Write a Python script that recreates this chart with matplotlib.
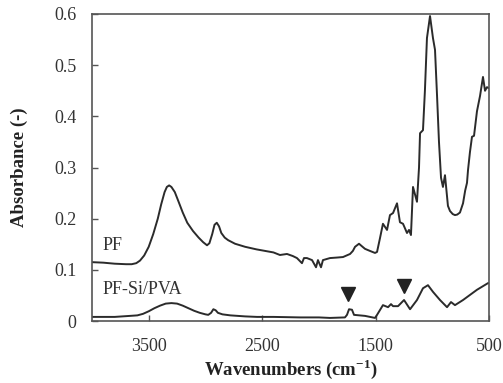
import matplotlib
matplotlib.use("Agg")
import matplotlib.pyplot as plt
from matplotlib.ticker import FuncFormatter

# PF spectrum (wavenumber cm-1, absorbance)
pf_wn = [4000, 3900, 3800, 3700, 3650, 3610, 3577, 3540, 3500, 3460, 3420, 3390,
         3360, 3340, 3320, 3300, 3270, 3240, 3200, 3160, 3110, 3060, 3020, 2986,
         2965, 2940, 2920, 2900, 2880, 2860, 2830, 2800, 2739, 2650, 2550, 2475,
         2400, 2343, 2281, 2230, 2193, 2149, 2131, 2105, 2060, 2025, 2008, 1981,
         1964, 1902, 1840, 1787, 1725, 1700, 1681, 1646, 1620, 1593, 1550, 1505,
         1487, 1461, 1435, 1399, 1373, 1346, 1311, 1285, 1258, 1223, 1205, 1188,
         1170, 1135, 1117, 1108, 1082, 1065, 1047, 1020, 994, 976, 958, 941,
         923, 906, 888, 862, 844, 820, 800, 780, 756, 729, 710, 694, 685, 668,
         650, 632, 606, 579, 553, 535, 518, 500]
pf_abs = [0.115, 0.114, 0.112, 0.111, 0.111, 0.113, 0.118, 0.128, 0.145, 0.170, 0.200, 0.228,
          0.252, 0.262, 0.265, 0.262, 0.252, 0.235, 0.212, 0.192, 0.176, 0.163, 0.154, 0.148,
          0.152, 0.170, 0.188, 0.192, 0.185, 0.172, 0.163, 0.158, 0.151, 0.145, 0.140, 0.137,
          0.134, 0.129, 0.131, 0.127, 0.123, 0.113, 0.123, 0.123, 0.119, 0.105, 0.119, 0.105,
          0.119, 0.123, 0.124, 0.125, 0.131, 0.137, 0.145, 0.151, 0.146, 0.141, 0.137, 0.133,
          0.135, 0.162, 0.190, 0.178, 0.207, 0.211, 0.230, 0.193, 0.190, 0.172, 0.178, 0.168,
          0.262, 0.233, 0.300, 0.367, 0.373, 0.450, 0.553, 0.596, 0.553, 0.530, 0.440, 0.350,
          0.280, 0.262, 0.285, 0.225, 0.215, 0.209, 0.207, 0.208, 0.212, 0.230, 0.255, 0.270,
          0.295, 0.330, 0.360, 0.362, 0.410, 0.440, 0.477, 0.450, 0.457, 0.455]

# PF-Si/PVA spectrum
pva_wn = [4000, 3800, 3665, 3600, 3550, 3500, 3450, 3400, 3350, 3300, 3250, 3200,
          3150, 3100, 3050, 3000, 2975, 2950, 2930, 2910, 2890, 2850, 2780, 2650,
          2545, 2400, 2166, 2000, 1902, 1770, 1752, 1734, 1708, 1690, 1593, 1505,
          1487, 1435, 1390, 1364, 1346, 1302, 1249, 1196, 1135, 1082, 1038, 994,
          932, 870, 835, 800, 729, 606, 509, 500]
pva_abs = [0.008, 0.008, 0.010, 0.011, 0.014, 0.019, 0.025, 0.030, 0.034, 0.035, 0.034, 0.030,
           0.025, 0.020, 0.016, 0.013, 0.012, 0.016, 0.023, 0.021, 0.016, 0.013, 0.011, 0.009,
           0.008, 0.008, 0.007, 0.007, 0.006, 0.007, 0.012, 0.023, 0.022, 0.012, 0.010, 0.006,
           0.012, 0.031, 0.027, 0.033, 0.029, 0.029, 0.041, 0.023, 0.041, 0.064, 0.070, 0.057,
           0.041, 0.027, 0.037, 0.031, 0.041, 0.061, 0.074, 0.074]

# Marker positions (triangles)
mark_wn = [1743, 1249]
mark_abs = [0.052, 0.068]

x_ticks = [3500, 2500, 1500, 500]
y_ticks = [0, 0.1, 0.2, 0.3, 0.4, 0.5, 0.6]

plt.rcParams['font.family'] = ['Liberation Serif', 'DejaVu Serif']

fig = plt.figure(figsize=(5.03, 3.83), dpi=100)
ax = fig.add_axes([92/503, 1-321/383, (489-92)/503, (321-14)/383])

line_c = '#2b2b2b'
ax.plot(pf_wn, pf_abs, color=line_c, lw=1.4)
ax.plot(pva_wn, pva_abs, color=line_c, lw=1.4)
ax.plot(mark_wn, mark_abs, linestyle='none', marker='v', ms=10, color='#222222')

ax.text(3903, 0.148, 'PF', fontsize=13, va='center', ha='left', color='#333333')
ax.text(3903, 0.061, 'PF-Si/PVA', fontsize=13, va='center', ha='left', color='#333333')

ax.set_xlim(4000, 500)
ax.set_ylim(0, 0.6)
ax.set_xticks(x_ticks)
ax.set_yticks(y_ticks)
ax.yaxis.set_major_formatter(FuncFormatter(lambda v, p: '0' if abs(v) < 1e-9 else f'{v:.1f}'))
ax.tick_params(direction='in', length=4, width=1, color='#555555', labelsize=13,
               labelcolor='#333333')
ax.tick_params(axis='y', pad=11)
ax.tick_params(axis='x', pad=12)
for s in ax.spines.values():
    s.set_color('#555555')
    s.set_linewidth(1.2)

ax.set_xlabel('Wavenumbers (cm$^{\\mathregular{-1}}$)', fontsize=13.5, fontweight='bold',
              color='#222222', labelpad=2)
ax.set_ylabel('Absorbance (-)', fontsize=13.5, fontweight='bold', color='#222222', labelpad=19)

fig.savefig('out.png', dpi=100)
